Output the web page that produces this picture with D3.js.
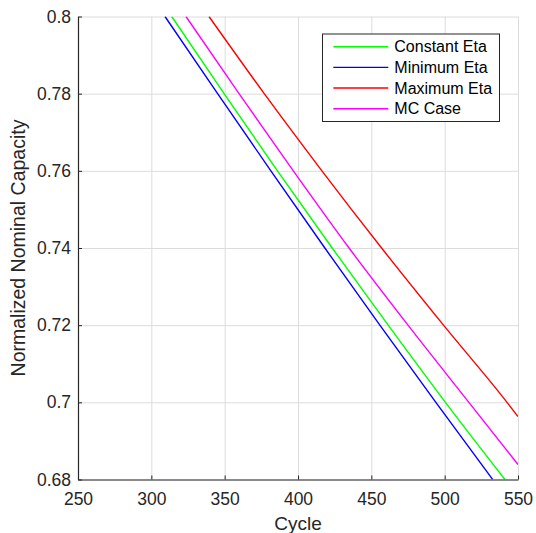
<!DOCTYPE html>
<html>
<head>
<meta charset="utf-8">
<script src="https://cdn.jsdelivr.net/npm/d3@7"></script>
<style>
  body { margin: 0; background: #fff; }
  svg { display: block; font-family: Arial, "Liberation Sans", Helvetica, sans-serif; }
  .axis path, .axis line { stroke: #262626; }
  .axis text { fill: #262626; font-size: 17.5px; }
  .grid line { stroke: #dcdcdc; stroke-width: 1; }
  .grid path { display: none; }
</style>
</head>
<body>
<div id="chart"></div>
<script>
// capacity levels, with the cycle where each curve crosses them
const capLevels = [0.80, 0.78, 0.76, 0.74, 0.72, 0.70, 0.68];
const constantEtaCycles = [313.9, 349.6, 386.0, 423.3, 461.5, 500.5, 541.1];
const minimumEtaCycles = [309.3, 345.2, 381.5, 418.3, 455.8, 494.0, 532.7];
// these two leave the plot at the right edge (cycle 550)
const maximumEtaCycles = [339.3, 377.0, 416.3, 457.0, 499.2, 542.5, 550];
const maximumEtaCaps = [0.80, 0.78, 0.76, 0.74, 0.72, 0.70, 0.6963];
const mcCaseCycles = [323.6, 359.8, 396.8, 434.8, 475.0, 516.5, 550];
const mcCaseCaps = [0.80, 0.78, 0.76, 0.74, 0.72, 0.70, 0.6839];

const xTicks = [250, 300, 350, 400, 450, 500, 550];
const yTicks = [0.68, 0.70, 0.72, 0.74, 0.76, 0.78, 0.80];

const series = [
  { name: 'Constant Eta', color: '#00ff00', cycles: constantEtaCycles, caps: capLevels },
  { name: 'Minimum Eta', color: '#0000ff', cycles: minimumEtaCycles, caps: capLevels },
  { name: 'Maximum Eta', color: '#ff0000', cycles: maximumEtaCycles, caps: maximumEtaCaps },
  { name: 'MC Case', color: '#ff00ff', cycles: mcCaseCycles, caps: mcCaseCaps },
];

const width = 536;
const height = 533;
const margin = { top: 16.5, right: 18, bottom: 53.5, left: 78 };
const innerW = width - margin.left - margin.right;
const innerH = height - margin.top - margin.bottom;

const svg = d3.select('#chart')
  .append('svg')
  .attr('width', width)
  .attr('height', height);

const xScale = d3.scaleLinear().domain([250, 550]).range([margin.left, width - margin.right]);
const yScale = d3.scaleLinear().domain([0.68, 0.80]).range([height - margin.bottom, margin.top]);

// Gridlines
svg.append('g')
  .attr('class', 'grid')
  .attr('transform', `translate(0, ${margin.top})`)
  .call(d3.axisBottom(xScale).tickValues(xTicks).tickFormat('').tickSize(innerH));

svg.append('g')
  .attr('class', 'grid')
  .attr('transform', `translate(${margin.left}, 0)`)
  .call(d3.axisRight(yScale).tickValues(yTicks).tickFormat('').tickSize(innerW));

// Lines
svg.append('clipPath')
  .attr('id', 'plot-clip')
  .append('rect')
  .attr('x', margin.left)
  .attr('y', margin.top)
  .attr('width', innerW)
  .attr('height', innerH);

const line = d3.line()
  .x((d) => xScale(d[0]))
  .y((d) => yScale(d[1]))
  .curve(d3.curveMonotoneX);

svg.append('g')
  .attr('clip-path', 'url(#plot-clip)')
  .selectAll('path')
  .data(series)
  .join('path')
  .attr('d', (s) => line(s.cycles.map((c, i) => [c, s.caps[i]])))
  .attr('fill', 'none')
  .attr('stroke', (s) => s.color)
  .attr('stroke-width', 1.4);

// Axes
const xAxis = svg.append('g')
  .attr('class', 'axis')
  .attr('transform', `translate(0, ${height - margin.bottom})`)
  .call(d3.axisBottom(xScale).tickValues(xTicks).tickSizeInner(-4).tickSizeOuter(0).tickPadding(13));

const yAxis = svg.append('g')
  .attr('class', 'axis')
  .attr('transform', `translate(${margin.left}, 0)`)
  .call(d3.axisLeft(yScale).tickValues(yTicks)
    .tickFormat((d) => String(+d.toFixed(2)))
    .tickSizeInner(-4).tickSizeOuter(0).tickPadding(7));

svg.selectAll('.axis path').attr('stroke-width', 1.2);

// Axis labels
svg.append('text')
  .attr('x', (margin.left + width - margin.right) / 2)
  .attr('y', 530)
  .attr('text-anchor', 'middle')
  .attr('fill', '#262626')
  .style('font-size', '19px')
  .text('Cycle');

svg.append('text')
  .attr('transform', `translate(25, ${(margin.top + height - margin.bottom) / 2}) rotate(-90)`)
  .attr('text-anchor', 'middle')
  .attr('fill', '#262626')
  .style('font-size', '19.5px')
  .text('Normalized Nominal Capacity');

// Legend
const legend = svg.append('g').attr('class', 'legend');
legend.append('rect')
  .attr('x', 322.5)
  .attr('y', 34)
  .attr('width', 177)
  .attr('height', 87.5)
  .attr('fill', '#fff')
  .attr('stroke', '#262626')
  .attr('stroke-width', 1);

const rowY = d3.scaleLinear().domain([0, 3]).range([46.7, 108.7]);
const rows = legend.selectAll('g.row')
  .data(series)
  .join('g')
  .attr('class', 'row')
  .attr('transform', (d, i) => `translate(0, ${rowY(i)})`);

rows.append('line')
  .attr('x1', 333.3)
  .attr('x2', 388.3)
  .attr('stroke', (d) => d.color)
  .attr('stroke-width', 1.4);

rows.append('text')
  .attr('x', 394.3)
  .attr('dy', '0.36em')
  .attr('fill', '#000')
  .style('font-size', '16px')
  .text((d) => d.name);
</script>
</body>
</html>
